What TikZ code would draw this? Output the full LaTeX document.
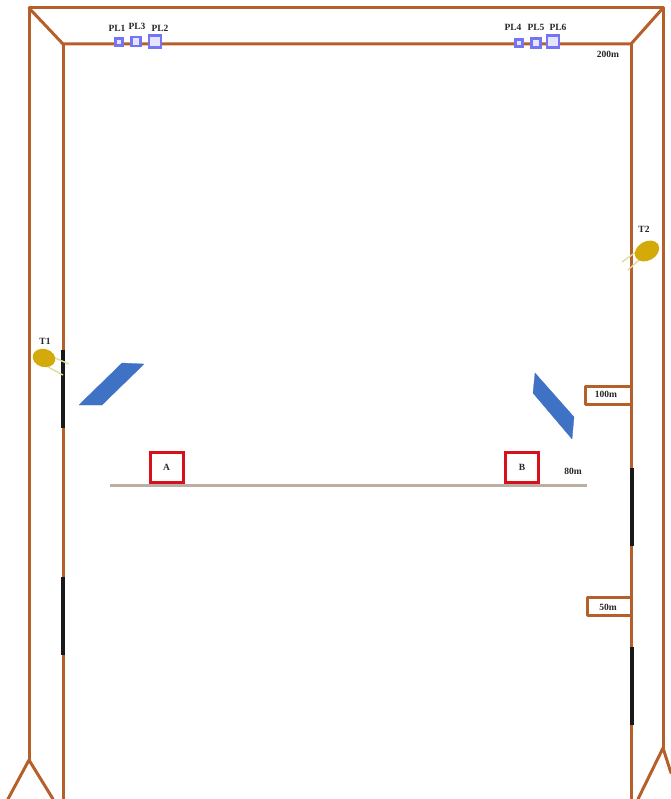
\documentclass[tikz,border=0pt]{standalone}
\usepackage{fontspec}
\setmainfont{Liberation Serif}
\usetikzlibrary{shapes.geometric}
\definecolor{frame}{HTML}{B5602A}
\definecolor{plb}{HTML}{7474F4}
\definecolor{plf}{HTML}{E4E4FA}
\definecolor{bluep}{HTML}{3F71C4}
\definecolor{gold}{HTML}{D4A90A}
\definecolor{pale}{HTML}{DDDD9C}
\definecolor{ground}{HTML}{BBAEA2}
\definecolor{redb}{HTML}{D8101C}
\tikzset{
 framel/.style={draw=frame,line width=3pt,line cap=round,line join=round},
 blk/.style={draw=black!90,line width=3.6pt},
 lbl/.style={font=\bfseries\fontsize{9.5}{10}\selectfont,inner sep=0pt,text=black!85},
 pl/.style={draw=plb,fill=plf,line width=2.2pt,inner sep=0pt,minimum size=#1},
 panel/.style={fill=bluep,draw=bluep,line width=.3pt},
 tree/.style={ellipse,fill=gold,inner sep=0pt,minimum width=23pt,minimum height=18pt},
 twig/.style={draw=pale,line width=1.4pt},
 target/.style={draw=redb,line width=3pt,fill=white,inner sep=0pt,minimum width=33pt,minimum height=30pt},
}
\begin{document}
\begin{tikzpicture}[x=1pt,y=-1pt]
\useasboundingbox (0,0) rectangle (670,799);
% frame corners
\coordinate (otl) at (29,8); \coordinate (otr) at (663,8);
\coordinate (itl) at (63,44); \coordinate (itr) at (631,44);
\coordinate (oal) at (29,760); \coordinate (oar) at (663,748);
\coordinate (ibl) at (63,799); \coordinate (ibr) at (631,799);
\coordinate (ll) at (8,799); \coordinate (lr) at (53,799);
\coordinate (rl) at (638,799); \coordinate (rr) at (671,773);
\draw[framel] (oal) -- (otl) -- (otr) -- (oar);
\draw[framel] (otl) -- (itl) -- (itr) -- (otr);
\draw[framel] (itl) -- (ibl);
\draw[framel] (itr) -- (ibr);
\draw[framel] (ll) -- (oal) -- (lr);
\draw[framel] (rl) -- (oar) -- (rr);
% black segments
\coordinate (b1a) at (63,350); \coordinate (b1b) at (63,428);
\coordinate (b2a) at (63,577); \coordinate (b2b) at (63,655);
\coordinate (b3a) at (632,468); \coordinate (b3b) at (632,546);
\coordinate (b4a) at (632,647); \coordinate (b4b) at (632,725);
\draw[blk] (b1a)--(b1b); \draw[blk] (b2a)--(b2b); \draw[blk] (b3a)--(b3b); \draw[blk] (b4a)--(b4b);
% PL squares
\node[pl=7pt] (pl1) at (119,42) {};
\node[pl=9pt] (pl3) at (136,41.5) {};
\node[pl=12pt] (pl2) at (155,41.5) {};
\node[pl=7pt] (pl4) at (519,43) {};
\node[pl=9pt] (pl5) at (536,43) {};
\node[pl=12pt] (pl6) at (553,41.5) {};
\node[lbl] (tpl1) at (117,28) {PL1};
\node[lbl] (tpl3) at (137,26) {PL3};
\node[lbl] (tpl2) at (160,28) {PL2};
\node[lbl] (tpl4) at (513,27) {PL4};
\node[lbl] (tpl5) at (536,27) {PL5};
\node[lbl] (tpl6) at (558,27) {PL6};
\node[lbl] (d200) at (608,54) {200m};
% trees
\coordinate (t1a) at (55,358); \coordinate (t1b) at (69,364);
\coordinate (t1c) at (48,367); \coordinate (t1d) at (63,375);
\coordinate (t2a) at (636,252); \coordinate (t2b) at (622,262);
\coordinate (t2c) at (641,258); \coordinate (t2d) at (628,270);
\draw[twig] (t1a)--(t1b); \draw[twig] (t1c)--(t1d);
\draw[twig] (t2a)--(t2b); \draw[twig] (t2c)--(t2d);
\node[tree,rotate=-15] (t1) at (44,358) {};
\node[tree,rotate=30,minimum width=26pt,minimum height=19pt] (t2) at (647,251) {};
\node[lbl] (tt1) at (45,341) {T1};
\node[lbl] (tt2) at (644,229) {T2};
% panels
\fill[panel] (79,405) -- (122,363) -- (144,364) -- (102,405) -- cycle;
\fill[panel] (535,373) -- (533,393) -- (572,439) -- (574,417) -- cycle;
% ground
\coordinate (g1) at (110,485); \coordinate (g2) at (587,485);
\draw[draw=ground,line width=3pt] (g1)--(g2);
% targets
\node[target] (a) at (166.5,467.5) {};
\node[target] (b) at (522,467.5) {};
\node[lbl] at (a) {A};
\node[lbl] at (b) {B};
\node[lbl] (d80) at (573,471) {80m};
% distance boxes
\coordinate (x1) at (631,386); \coordinate (x2) at (585,386);
\coordinate (x3) at (585,404); \coordinate (x4) at (631,404);
\coordinate (y1) at (631,597); \coordinate (y2) at (587,597);
\coordinate (y3) at (587,615); \coordinate (y4) at (631,615);
\draw[framel] (x1)--(x2)--(x3)--(x4);
\draw[framel] (y1)--(y2)--(y3)--(y4);
\node[lbl] (d100) at (606,394.5) {100m};
\node[lbl] (d50) at (608,607) {50m};
\end{tikzpicture}
\end{document}
